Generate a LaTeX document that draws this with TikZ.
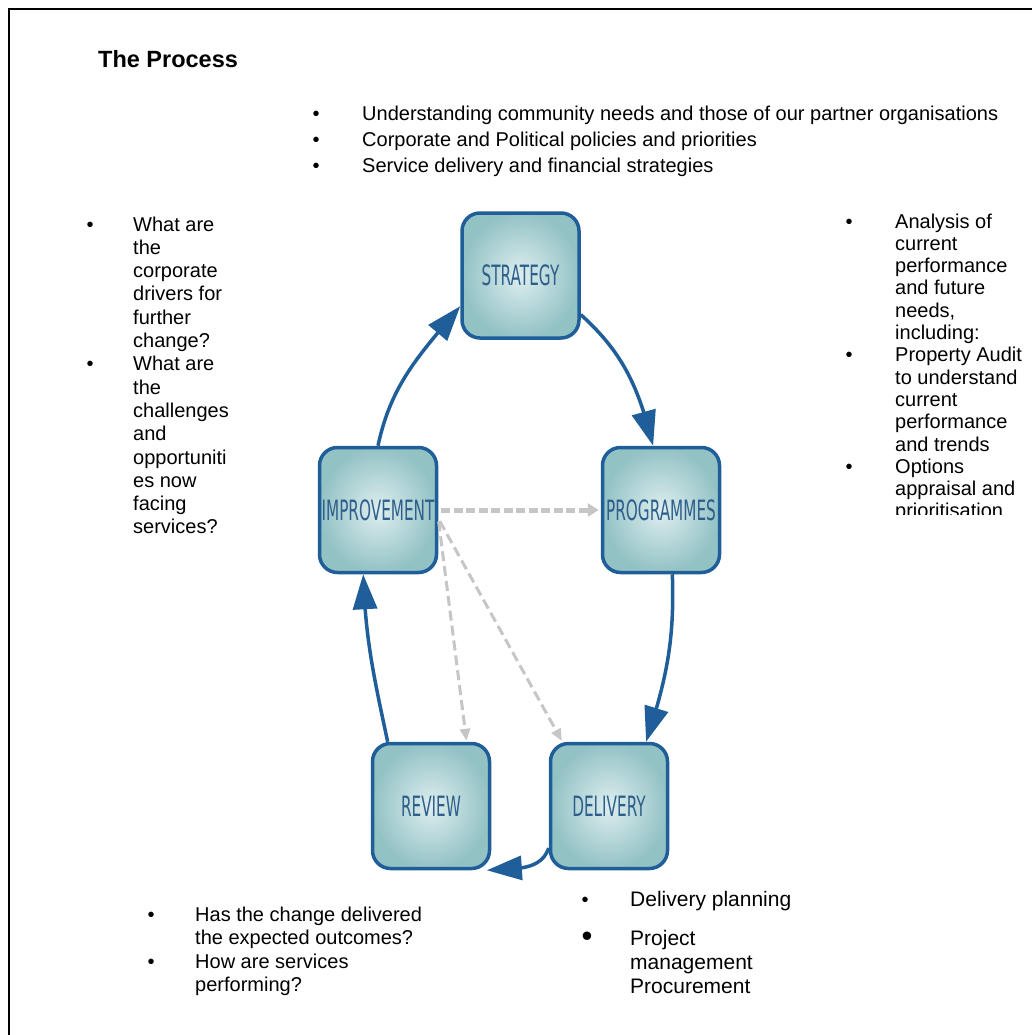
\documentclass[tikz,border=0pt]{standalone}
\usepackage{fontspec}
\setmainfont{Liberation Sans}
\newfontfamily\boxfont[FakeStretch=0.545]{DejaVu Sans}
\usetikzlibrary{arrows.meta,bending}
\definecolor{boxline}{HTML}{1F5E98}
\definecolor{boxtext}{HTML}{2E5E8C}
\definecolor{boxout}{HTML}{93C2C5}
\definecolor{boxin}{HTML}{DEEEEE}
\definecolor{arrowblue}{HTML}{1F5E99}
\definecolor{dashgrey}{HTML}{C6C6C6}
\begin{document}
\begin{tikzpicture}[x=1pt,y=1pt,
  stagebox/.style={draw=boxline, line width=3.5pt, rounded corners=18pt,
    minimum width=117pt, minimum height=125pt, inner sep=0pt,
    inner color=boxin, outer color=boxout,
    font=\boxfont\fontsize{28}{28}\selectfont, text=boxtext},
  txt/.style={anchor=base west, inner sep=0pt, font=\fontsize{20}{23}\selectfont},
  txtb/.style={anchor=base west, inner sep=0pt, font=\fontsize{21}{24}\selectfont},
  bul/.style={anchor=base, inner sep=0pt, font=\fontsize{20}{23}\selectfont},
  bigbul/.style={anchor=base, inner sep=0pt, font=\fontsize{31}{31}\selectfont},
  cycle/.style={draw=arrowblue, line width=3.5pt, -{Triangle[length=35pt,width=24pt,flex]}},
  dashmain/.style={draw=dashgrey, line width=5pt, dash pattern=on 9pt off 3.5pt,
    -{Triangle[length=11pt,width=13pt]}, shorten <=3pt, shorten >=2pt},
  dashdiag/.style={draw=dashgrey, line width=3pt, dash pattern=on 10pt off 5pt,
    -{Triangle[length=12pt,width=10pt]}, shorten <=3pt, shorten >=1pt}
]
\useasboundingbox (0,0) rectangle (1031,-1035);
\fill[white] (0,0) rectangle (1031,-1035);
% frame
\draw[line width=2pt, line cap=rect] (9,-1036) -- (9,-9) -- (1032,-9);

% title
\node[anchor=base west, inner sep=0pt, font=\bfseries\fontsize{23.5}{28}\selectfont] (title) at (98,-68) {The Process};

% top list
\node[bul] (tb1) at (316,-121) {•};
\node[bul] (tb2) at (316,-147) {•};
\node[bul] (tb3) at (316,-173) {•};
\node[txt] (top1) at (362,-121) {Understanding community needs and those of our partner organisations};
\node[txt] (top2) at (362,-147) {Corporate and Political policies and priorities};
\node[txt] (top3) at (362,-173) {Service delivery and financial strategies};

% left list
\node[bul] (lb1) at (90,-231) {•};
\node[bul] (lb2) at (90,{-231-23.3*6}) {•};
\foreach \t [count=\i] in {What are, the, corporate, drivers for, further, change?, What are, the, challenges, and, opportuniti, es now, facing, services?}{
  \node[txt] (lft\i) at (133,{-231-23.3*(\i-1)}) {\t};
}

% right list
\node[bul] (rb1) at (849,-228) {•};
\node[bul] (rb2) at (849,{-228-22.3*6}) {•};
\node[bul] (rb3) at (849,{-228-22.3*11}) {•};
\foreach \t [count=\i] in {Analysis of, current, performance, and future, {needs,}, including:, Property Audit, to understand, current, performance, and trends, Options, appraisal and}{
  \node[txt] (rgt\i) at (895,{-228-22.3*(\i-1)}) {\t};
}
\begin{scope}
  \clip (880,-500) rectangle (1031,-514);
  \node[txt] (rgt14) at (895,{-228-22.3*13}) {prioritisation};
\end{scope}

% bottom left list
\node[bul] (blb1) at (151,-921) {•};
\node[bul] (blb2) at (151,-968) {•};
\node[txt] (bl1) at (195,-921) {Has the change delivered};
\node[txt] (bl2) at (195,-944.5) {the expected outcomes?};
\node[txt] (bl3) at (195,-968) {How are services};
\node[txt] (bl4) at (195,-991.5) {performing?};

% bottom right list
\node[bul] (brb1) at (585,-906) {•};
\node[bigbul] (brb2) at (587,-946) {•};
\node[txtb] (br1) at (630,-906) {Delivery planning};
\node[txtb] (br2) at (630,-945) {Project};
\node[txtb] (br3) at (630,-969) {management};
\node[txtb] (br4) at (630,-993) {Procurement};

% stages
\node[stagebox] (strategy) at (520.5,-275.5) {STRATEGY};
\node[stagebox] (programmes) at (661,-510) {PROGRAMMES};
\node[stagebox] (imp) at (378,-510) {IMPROVEMENT};
\node[stagebox] (review) at (431,-806) {REVIEW};
\node[stagebox] (delivery) at (609,-806) {DELIVERY};

% dashed links
\draw[dashmain] (imp.east) -- (programmes.west);
\draw[dashdiag] (imp.-8) -- (review.61);
\draw[dashdiag] (imp.-8) -- (delivery.126);

% cycle
\draw[cycle] (imp.north) to[out=78,in=230] (strategy.207);
\draw[cycle] (strategy.-33) to[out=-42,in=104] (programmes.97);
\draw[cycle] (programmes.-80) to[out=-88,in=72] (delivery.60);
\draw[cycle] (delivery.215) to[out=250,in=5] (review.-49);
\draw[cycle] (review.124) to[out=102,in=-88] (imp.-103);
\end{tikzpicture}
\end{document}
